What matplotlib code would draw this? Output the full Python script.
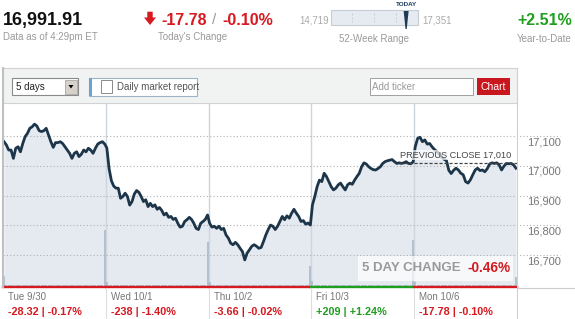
import numpy as np
import matplotlib
matplotlib.use("Agg")
import matplotlib.pyplot as plt
from matplotlib.patches import Rectangle, Polygon
from matplotlib.lines import Line2D

plt.rcParams['font.family'] = ['Liberation Sans', 'DejaVu Sans']

# header numbers
last_price = 16991.91
change_pts = "-17.78"
change_pct = "-0.10%"
ytd = "+2.51%"
low_52, high_52 = 14719, 17351
prev_close = 17010
five_day = "-0.46%"

days = ["Tue 9/30", "Wed 10/1", "Thu 10/2", "Fri 10/3", "Mon 10/6"]
day_changes = ["-28.32 | -0.17%", "-238 | -1.40%", "-3.66 | -0.02%",
               "+209 | +1.24%", "-17.78 | -0.10%"]
day_up = [False, False, False, True, False]

# intraday prices
tue = [17081, 17070, 17053, 17053, 17025, 17059, 17064, 17047, 17075, 17098,
       17109, 17126, 17131, 17140, 17134, 17118, 17115, 17118, 17126, 17103,
       17081, 17062, 17078, 17078, 17081, 17075, 17064, 17053, 17042, 17025,
       17042, 17047, 17031, 17039, 17053, 17047, 17059, 17053, 17042, 17059,
       17073, 17078, 17081, 17073]
wed = [17060, 16990, 16950, 16932, 16925, 16925, 16891, 16897, 16908, 16897,
       16868, 16880, 16905, 16917, 16911, 16897, 16880, 16886, 16863, 16874,
       16863, 16869, 16854, 16860, 16850, 16835, 16841, 16827, 16830, 16820,
       16824, 16807, 16794, 16797, 16813, 16819, 16827, 16820, 16807, 16790,
       16786, 16807, 16813, 16820, 16835]
thu = [16807, 16794, 16797, 16790, 16797, 16786, 16790, 16768, 16757, 16740,
       16735, 16743, 16735, 16723, 16712, 16684, 16707, 16718, 16730, 16735,
       16730, 16723, 16726, 16746, 16768, 16786, 16801, 16797, 16786, 16797,
       16813, 16830, 16819, 16832, 16824, 16841, 16854, 16841, 16830, 16813,
       16816, 16804, 16808, 16801]
fri = [16868, 16897, 16930, 16952, 16947, 16975, 16964, 16947, 16930, 16919,
       16925, 16936, 16942, 16930, 16919, 16936, 16942, 16938, 16952, 16964,
       16975, 16997, 17010, 17006, 16997, 16991, 16987, 16986, 16991, 16997,
       17008, 17014, 17017, 17019, 17021, 17014, 17008, 17010, 17008, 17010,
       17014, 17008, 17007, 17013]
mon = [17064, 17092, 17096, 17081, 17087, 17073, 17075, 17064, 17055, 17048,
       17040, 17030, 17022, 17018, 16985, 16974, 16985, 16992, 16986, 16975,
       16970, 16947, 16942, 16953, 16970, 16986, 16992, 16984, 16986, 16980,
       16990, 17006, 17010, 17008, 17010, 17003, 16986, 16999, 17008, 17007,
       17008, 17003, 16992]
prices = [tue, wed, thu, fri, mon]

# volume (millions), open bar / close bar / typical bar
vol_open = [11, 5, 5, 6, 5]
vol_close = [57, 45, 21, 47, 10]
vol_base = 2
vol_max = 184

yticks = [16700, 16800, 16900, 17000, 17100]
ylo, yhi = 16593, 17211

RED = '#d71920'
GREEN = '#1f9e1f'
NAVY = '#1c3549'

W, H = 575, 319
fig = plt.figure(figsize=(W / 100, H / 100), dpi=100)


def fx(x):
    return x / W


def fy(y):
    return 1 - y / H


def box(x0, y0, x1, y1, **kw):
    fig.add_artist(Rectangle((fx(x0), fy(y1)), fx(x1) - fx(x0), fy(y0) - fy(y1),
                             transform=fig.transFigure, **kw))


def line(xs, ys, **kw):
    fig.add_artist(Line2D([fx(x) for x in xs], [fy(y) for y in ys],
                          transform=fig.transFigure, **kw))


def label(x, y, s, **kw):
    kw.setdefault('va', 'center')
    fig.text(fx(x), fy(y), s, **kw)


# ---- header ----
label(3, 20, f"{last_price:,.2f}", fontsize=13, fontweight='bold', color='#111111')
label(3, 37.5, "Data as of 4:29pm ET", fontsize=7, color='#9a9a9a')

arrow = [(147.3, 11.7), (152.7, 11.7), (152.7, 17.5), (156, 17.5), (150, 25),
         (144, 17.5), (147.3, 17.5)]
fig.add_artist(Polygon([(fx(a), fy(b)) for a, b in arrow], closed=True,
                       transform=fig.transFigure, color=RED, lw=0))
label(161, 20.5, change_pts, fontsize=11.5, fontweight='bold', color=RED)
label(212, 20.5, "/", fontsize=11, color='#999999')
label(222, 20.5, change_pct, fontsize=11.5, fontweight='bold', color=RED)
label(158, 37.5, "Today's Change", fontsize=7, color='#9a9a9a')

# 52 week range
label(329, 20.5, f"{low_52:,}", fontsize=7, color='#aaaaaa', ha='right')
label(422, 20.5, f"{high_52:,}", fontsize=7, color='#aaaaaa')
box(331, 10, 418, 25, facecolor='#e6ebf1', edgecolor='#c5ccd4', lw=0.8)
for tx in [352, 373.5, 396]:
    line([tx, tx], [13, 22], color='#c5ccd4', lw=0.7, ls=(0, (2, 2)))
pin = 331 + (last_price - low_52) / (high_52 - low_52) * 87
fig.add_artist(Polygon([(fx(pin - 2.5), fy(11)), (fx(pin + 2.5), fy(11)),
                        (fx(pin + 0.6), fy(29)), (fx(pin - 0.6), fy(29))],
                       closed=True, transform=fig.transFigure, color='#1c3a5a', lw=0))
label(pin, 5, "TODAY", fontsize=4.5, fontweight='bold', color='#1c3a5a', ha='center')
label(374, 39.5, "52-Week Range", fontsize=7, color='#9a9a9a', ha='center')

label(572, 20.5, ytd, fontsize=11.5, fontweight='bold', color=GREEN, ha='right')
label(572, 38.5, "Year-to-Date", fontsize=7, color='#9a9a9a', ha='right')

# ---- toolbar ----
box(3, 68, 517, 103, facecolor='#f1f2f2', edgecolor='#d2d2d2', lw=0.8)
box(12, 78, 78, 95, facecolor='white', edgecolor='#8a8a8a', lw=0.8)
box(65, 79.5, 77, 93.5, facecolor='#d6d2ca', edgecolor='#9a9a9a', lw=0.5)
fig.add_artist(Polygon([(fx(68.5), fy(85)), (fx(73.5), fy(85)), (fx(71), fy(88.5))],
                       closed=True, transform=fig.transFigure, color='black', lw=0))
label(16, 86.5, "5 days", fontsize=7, color='#222222')
box(89, 78, 197, 96, facecolor='white', edgecolor='#9fb3c6', lw=0.8)
box(89, 78, 92, 96, facecolor='#6aa3cf', lw=0)
box(101, 80.5, 112, 93, facecolor='white', edgecolor='#8a8a8a', lw=0.7)
label(117, 86.5, "Daily market report", fontsize=7, color='#555555')
box(370, 78, 473, 95, facecolor='white', edgecolor='#a0a0a0', lw=0.7)
label(372, 86.5, "Add ticker", fontsize=7, color='#9a9a9a')
box(477, 78, 510, 95, facecolor='#c8171e', lw=0)
label(493.5, 86.5, "Chart", fontsize=7.5, color='white', ha='center')

# ---- price chart ----
ax = fig.add_axes([fx(3), fy(287), fx(517) - fx(3), fy(103) - fy(287)])
ax.set_xlim(0, 5)
ax.set_ylim(ylo, yhi)
ax.axis('off')

xs_all, ys_all = [], []
for i, p in enumerate(prices):
    xs = i + np.linspace(0.01, 0.99, len(p))
    xs_all.extend(xs)
    ys_all.extend(p)
    v = [vol_base] * len(p)
    v[0] = vol_open[i]
    v[-1] = vol_close[i]
    ax.vlines(xs, 0, np.array(v) / vol_max, transform=ax.get_xaxis_transform(),
              color='#aebdcc', lw=1.3, zorder=2)

ax.fill_between(xs_all, ys_all, ylo, color='#e5eaf1', lw=0, zorder=1)
ax.vlines([1, 2, 3, 4], ylo, yhi, color='#cdd5de', lw=1, zorder=1.5)

for t in yticks:
    ax.plot([0, (560 - 3) / 514], [t, t], transform=ax.get_yaxis_transform(),
            clip_on=False, color='#b0b0b0', lw=0.8, ls=(0, (1, 2)), zorder=2.5)
    ax.annotate(f"{t:,}", xy=((527 - 3) / 514, t), xycoords=ax.get_yaxis_transform(),
                xytext=(0, -4.3), textcoords='offset points', va='center',
                fontsize=8, color='#777777', annotation_clip=False)

ax.plot(xs_all, ys_all, color=NAVY, lw=2.0, solid_joinstyle='round', zorder=4)

ax.plot([3.85, 5], [prev_close, prev_close], color='#444444', lw=0.9,
        ls=(0, (2.5, 1.5)), zorder=5)
ax.annotate(f"PREVIOUS CLOSE {prev_close:,}", xy=(4.942, prev_close),
            xytext=(0, 2.5), textcoords='offset points', ha='right', va='bottom',
            fontsize=6.6, color='#444444', zorder=6,
            bbox=dict(facecolor='white', alpha=0.7, edgecolor='none', pad=0.6))

for i, up in enumerate(day_up):
    ax.plot([i, i + 1], [0, 0], transform=ax.get_xaxis_transform(), clip_on=False,
            color=GREEN if up else RED, lw=1.7, zorder=6)

# 5 day change
box(358, 256, 513, 281, facecolor='white', alpha=0.7, lw=0)
label(362, 268, "5 DAY CHANGE", fontsize=9.5, fontweight='bold', color='#9a9a9a')
label(511, 268, five_day, fontsize=9.8, fontweight='bold', color=RED, ha='right')

# ---- borders and day cells ----
line([3, 3], [68, 287], color='#c0c0c0', lw=1.5)
line([517, 517], [68, 319], color='#d0d0d0', lw=0.8)
line([517, 575], [287.5, 287.5], color='#cccccc', lw=0.8)
day_w = 514 / 5
for i, (d, c, up) in enumerate(zip(days, day_changes, day_up)):
    x0 = 3 + i * day_w
    if i > 0:
        line([x0, x0], [288, 319], color='#dddddd', lw=0.8)
    label(x0 + 5, 297, d, fontsize=7, color='#777777')
    label(x0 + 5, 312, c, fontsize=7.8, fontweight='bold', color=GREEN if up else RED)

fig.savefig("out.png", dpi=100)
